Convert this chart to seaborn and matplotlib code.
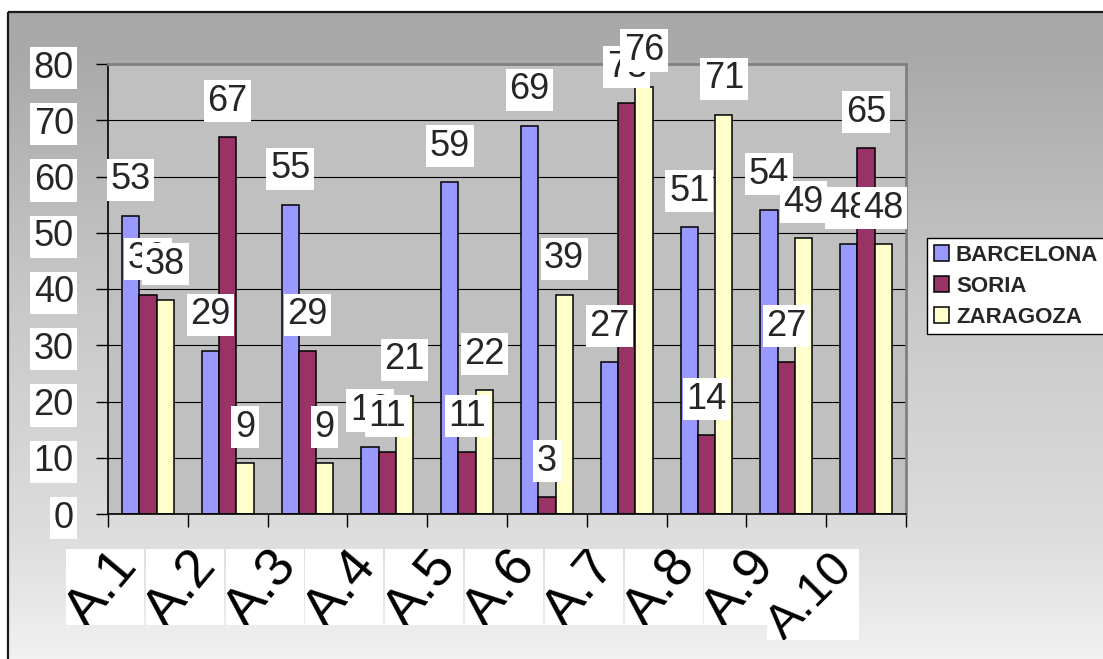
import numpy as np
import pandas as pd
import matplotlib
matplotlib.use("Agg")
import matplotlib.pyplot as plt
from matplotlib.patches import Rectangle, Patch
from matplotlib.transforms import IdentityTransform
import seaborn as sns

# ---- data -------------------------------------------------------------
categories = ["A.1", "A.2", "A.3", "A.4", "A.5", "A.6", "A.7", "A.8", "A.9", "A.10"]
barcelona = [53, 29, 55, 12, 59, 69, 27, 51, 54, 48]
soria = [39, 67, 29, 11, 11, 3, 73, 14, 27, 65]
zaragoza = [38, 9, 9, 21, 22, 39, 76, 71, 49, 48]
series_names = ["BARCELONA", "SORIA", "ZARAGOZA"]
series_colors = ["#9999FF", "#993366", "#FFFFCC"]
y_ticks = [0, 10, 20, 30, 40, 50, 60, 70, 80]

sns.set_style("white")
plt.rcParams["font.family"] = ["Liberation Sans", "DejaVu Sans"]

W, H = 1103, 659
fig = plt.figure(figsize=(W / 100, H / 100), dpi=100)
fig.patch.set_facecolor("white")

# ---- chart-area background: vertical grey gradient with dark frame ----
bg = fig.add_axes([0, 0, 1, 1], zorder=-10)
bg.set_xlim(0, W)
bg.set_ylim(H, 0)
bg.axis("off")
ys = np.linspace(12, H + 5, 400)
shade = np.interp(ys, [12, 60, 300, 537, 664], [168, 170, 200, 221, 242]) / 255.0
grad = np.repeat(shade[:, None], 2, axis=1)
bg.imshow(np.dstack([grad, grad, grad]), extent=(8, W + 5, H + 5, 12),
          aspect="auto", origin="upper", interpolation="bilinear")
bg.plot([8, W + 5], [12, 12], color="#1a1a1a", lw=1.6, solid_capstyle="butt")
bg.plot([8, 8], [12, H + 5], color="#1a1a1a", lw=1.6, solid_capstyle="butt")

# ---- plot area ---------------------------------------------------------
ax = fig.add_axes([108 / W, 1 - 514 / H, 798 / W, 450 / H])
ax.set_facecolor("#C0C0C0")

df = pd.DataFrame({
    "cat": np.tile(categories, 3),
    "city": np.repeat(series_names, len(categories)),
    "val": np.concatenate([barcelona, soria, zaragoza]),
})

sns.barplot(data=df, x="cat", y="val", hue="city", hue_order=series_names,
            order=categories, palette=series_colors, saturation=1, width=0.65,
            edgecolor="black", linewidth=1.1, ax=ax, legend=False)

ax.set_xlim(-0.5, len(categories) - 0.5)
ax.set_ylim(0, 80)
ax.set_xlabel("")
ax.set_ylabel("")

for side in ("left", "bottom"):
    ax.spines[side].set_color("black")
    ax.spines[side].set_linewidth(1.2)
for side in ("top", "right"):
    ax.spines[side].set_color("#808080")
    ax.spines[side].set_linewidth(2)

ax.set_axisbelow(True)
ax.yaxis.grid(True, color="black", lw=0.8)
ax.xaxis.grid(False)

box_kw = dict(facecolor="white", edgecolor="none", boxstyle="square,pad=0.1")
ax.set_yticks(y_ticks, [str(v) for v in y_ticks], bbox=box_kw)
ax.tick_params(axis="y", left=True, length=8.6, width=1, color="black",
               labelsize=26, pad=16)
ax.set_xticks(np.arange(-0.5, len(categories), 1), [""] * (len(categories) + 1))
ax.tick_params(axis="x", bottom=True, length=9.4, width=1, color="black",
               labelbottom=False)

# ---- value labels over each bar ---------------------------------------
for container, vals in zip(ax.containers, [barcelona, soria, zaragoza]):
    for bar, v in zip(container, vals):
        cx = bar.get_x() + bar.get_width() / 2
        ax.annotate(str(v), xy=(cx, v), xytext=(0, 36), textcoords="offset pixels",
                    ha="center", va="center", fontsize=26, zorder=5,
                    bbox=box_kw)

# ---- rotated category labels in white, clipping boxes -----------------
for i, lab in enumerate(categories):
    cx, y0 = ax.transData.transform((i, 0))
    long_lab = len(lab) > 3
    w = 92 if long_lab else 78
    h = 91 if long_lab else 76
    right = cx - (7 if long_lab else 4)
    top = y0 - 35
    rect = Rectangle((right - w, top - h), w, h, transform=IdentityTransform(),
                     facecolor="white", edgecolor="none", zorder=2)
    fig.add_artist(rect)
    t = fig.text(right - w / 2 - 3, top - h / 2 - 2, lab, transform=IdentityTransform(),
                 rotation=45 if long_lab else 50, rotation_mode="anchor",
                 ha="center", va="center",
                 fontsize=35 if long_lab else 39, color="black", zorder=3)
    t.set_clip_path(rect)

# ---- legend -----------------------------------------------------------
handles = [Patch(facecolor=c, edgecolor="black", linewidth=1.1) for c in series_colors]
leg = fig.legend(handles, series_names, loc="upper left",
                 bbox_to_anchor=(927 / W, 1 - 238 / H), bbox_transform=fig.transFigure,
                 frameon=True, fancybox=False, shadow=False, edgecolor="black",
                 facecolor="white", framealpha=1, borderpad=0.3, labelspacing=0.45,
                 handlelength=0.68, handleheight=0.68, handletextpad=0.32,
                 borderaxespad=0,
                 prop=dict(family="Liberation Sans", weight="bold", size=16))
leg.get_frame().set_linewidth(1.0)

fig.savefig("out.png", dpi=100)
